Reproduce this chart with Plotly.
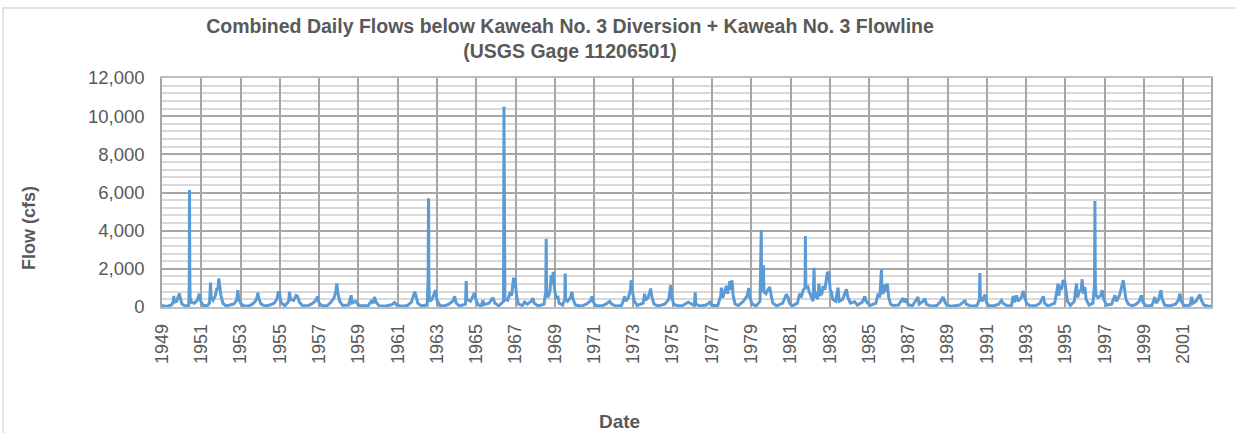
import plotly.graph_objects as go

# Combined daily flow record, USGS gage 11206501 (decimal year, cfs)
t_year = [
    1949.50, 1949.60, 1949.80, 1950.00, 1950.08, 1950.10, 1950.13, 1950.25, 1950.33, 1950.39,
    1950.44, 1950.52, 1950.70, 1950.86, 1950.89, 1950.90, 1950.915, 1950.93, 1951.00, 1951.15,
    1951.30, 1951.40, 1951.47, 1951.60, 1951.80, 1951.92, 1951.97, 1952.00, 1952.10, 1952.22,
    1952.30, 1952.35, 1952.39, 1952.44, 1952.50, 1952.60, 1952.75, 1953.00, 1953.15, 1953.30,
    1953.36, 1953.41, 1953.50, 1953.65, 1953.90, 1954.10, 1954.25, 1954.32, 1954.38, 1954.44,
    1954.55, 1954.75, 1955.00, 1955.20, 1955.35, 1955.42, 1955.48, 1955.55, 1955.75, 1955.95,
    1955.99, 1956.05, 1956.20, 1956.33, 1956.40, 1956.50, 1956.65, 1956.90, 1957.10, 1957.30,
    1957.43, 1957.50, 1957.65, 1957.90, 1958.10, 1958.25, 1958.35, 1958.40, 1958.46, 1958.55,
    1958.70, 1959.00, 1959.13, 1959.18, 1959.35, 1959.45, 1959.60, 1960.00, 1960.15, 1960.25,
    1960.32, 1960.40, 1960.55, 1960.90, 1961.20, 1961.34, 1961.45, 1961.70, 1962.00, 1962.20,
    1962.30, 1962.36, 1962.42, 1962.52, 1962.70, 1963.00, 1963.05, 1963.07, 1963.09, 1963.12,
    1963.25, 1963.38, 1963.43, 1963.50, 1963.65, 1963.90, 1964.10, 1964.30, 1964.40, 1964.48,
    1964.65, 1964.95, 1964.99, 1965.02, 1965.20, 1965.35, 1965.41, 1965.48, 1965.60, 1965.75,
    1965.84, 1965.90, 1966.15, 1966.35, 1966.45, 1966.65, 1966.89, 1966.91, 1966.93, 1966.96,
    1967.10, 1967.20, 1967.30, 1967.40, 1967.44, 1967.48, 1967.55, 1967.65, 1967.85, 1967.96,
    1968.10, 1968.30, 1968.38, 1968.45, 1968.65, 1968.95, 1969.04, 1969.06, 1969.08, 1969.15,
    1969.25, 1969.32, 1969.37, 1969.42, 1969.48, 1969.55, 1969.66, 1969.72, 1969.90, 1970.01,
    1970.03, 1970.05, 1970.15, 1970.30, 1970.37, 1970.43, 1970.55, 1970.85, 1971.10, 1971.30,
    1971.40, 1971.46, 1971.60, 1971.95, 1972.10, 1972.29, 1972.40, 1972.60, 1972.90, 1973.06,
    1973.12, 1973.25, 1973.35, 1973.39, 1973.45, 1973.55, 1973.70, 1974.00, 1974.07, 1974.12,
    1974.25, 1974.32, 1974.38, 1974.45, 1974.55, 1974.75, 1975.10, 1975.30, 1975.40, 1975.46,
    1975.55, 1975.75, 1976.00, 1976.30, 1976.40, 1976.60, 1976.65, 1976.68, 1976.90, 1977.20,
    1977.40, 1977.50, 1977.80, 1977.95, 1977.98, 1978.05, 1978.15, 1978.23, 1978.30, 1978.41,
    1978.46, 1978.52, 1978.58, 1978.68, 1978.85, 1979.10, 1979.30, 1979.37, 1979.43, 1979.55,
    1979.75, 1979.95, 1980.01, 1980.03, 1980.10, 1980.12, 1980.15, 1980.25, 1980.35, 1980.44,
    1980.50, 1980.60, 1980.80, 1981.10, 1981.29, 1981.37, 1981.45, 1981.60, 1981.85, 1981.97,
    1982.05, 1982.14, 1982.24, 1982.26, 1982.28, 1982.39, 1982.45, 1982.55, 1982.65, 1982.70,
    1982.73, 1982.82, 1982.88, 1982.95, 1983.00, 1983.10, 1983.16, 1983.25, 1983.38, 1983.45,
    1983.52, 1983.58, 1983.65, 1983.80, 1983.92, 1983.98, 1984.15, 1984.35, 1984.42, 1984.55,
    1984.77, 1984.90, 1985.15, 1985.28, 1985.35, 1985.55, 1985.85, 1985.96, 1986.05, 1986.13,
    1986.16, 1986.22, 1986.30, 1986.36, 1986.43, 1986.50, 1986.60, 1986.72, 1987.00, 1987.23,
    1987.30, 1987.40, 1987.48, 1987.70, 1987.99, 1988.05, 1988.25, 1988.34, 1988.42, 1988.65,
    1988.95, 1989.15, 1989.27, 1989.35, 1989.45, 1989.70, 1990.10, 1990.30, 1990.38, 1990.45,
    1990.70, 1991.00, 1991.12, 1991.14, 1991.17, 1991.25, 1991.33, 1991.40, 1991.47, 1991.60,
    1991.90, 1992.10, 1992.24, 1992.32, 1992.55, 1992.75, 1992.84, 1992.90, 1993.01, 1993.08,
    1993.25, 1993.35, 1993.42, 1993.52, 1993.70, 1994.00, 1994.20, 1994.37, 1994.44, 1994.60,
    1994.95, 1995.05, 1995.13, 1995.17, 1995.21, 1995.30, 1995.38, 1995.47, 1995.52, 1995.60,
    1995.75, 1995.95, 1996.06, 1996.12, 1996.20, 1996.30, 1996.35, 1996.40, 1996.49, 1996.55,
    1996.70, 1996.90, 1996.98, 1997.00, 1997.02, 1997.06, 1997.15, 1997.30, 1997.37, 1997.45,
    1997.60, 1997.85, 1998.02, 1998.10, 1998.25, 1998.35, 1998.44, 1998.50, 1998.58, 1998.70,
    1998.90, 1999.10, 1999.25, 1999.37, 1999.45, 1999.60, 1999.90, 2000.05, 2000.12, 2000.25,
    2000.36, 2000.43, 2000.55, 2000.80, 2001.10, 2001.25, 2001.33, 2001.40, 2001.55, 2001.85,
    2001.92, 2002.00, 2002.15, 2002.25, 2002.35, 2002.42, 2002.55, 2002.75, 2002.91,
]

flow_cfs = [
    80, 50, 40, 120, 300, 580, 250, 300, 560, 700,
    420, 150, 50, 80, 1200, 6130, 1800, 500, 250, 200,
    350, 700, 300, 90, 60, 200, 1280, 500, 350, 600,
    1000, 900, 1490, 1100, 600, 200, 60, 120, 150, 350,
    880, 450, 200, 70, 50, 150, 300, 450, 740, 400,
    150, 50, 100, 200, 400, 760, 770, 250, 60, 300,
    790, 400, 350, 600, 560, 250, 80, 60, 150, 300,
    550, 200, 60, 60, 250, 450, 800, 1230, 700, 300,
    80, 100, 615, 200, 300, 180, 60, 80, 300, 200,
    525, 250, 70, 50, 120, 230, 100, 40, 80, 250,
    600, 790, 650, 200, 60, 100, 1500, 5695, 1200, 300,
    400, 800, 880, 350, 80, 60, 150, 300, 560, 200,
    50, 150, 1366, 400, 300, 600, 735, 400, 120, 60,
    350, 120, 200, 490, 200, 60, 300, 10500, 1500, 400,
    350, 700, 600, 1543, 1000, 1490, 600, 150, 80, 260,
    150, 300, 470, 200, 50, 150, 800, 3557, 900, 500,
    800, 1664, 1200, 1839, 1000, 500, 525, 200, 100, 400,
    1753, 400, 300, 500, 788, 400, 100, 50, 150, 300,
    560, 250, 60, 80, 150, 300, 150, 50, 80, 560,
    300, 500, 900, 1402, 800, 300, 80, 200, 700, 350,
    500, 700, 964, 500, 150, 60, 150, 400, 1140, 500,
    150, 60, 80, 250, 200, 80, 770, 150, 50, 100,
    250, 80, 80, 600, 1014, 500, 800, 1100, 700, 1350,
    900, 1400, 600, 150, 80, 300, 600, 1000, 500, 150,
    60, 300, 4030, 1000, 800, 2190, 800, 700, 900, 1050,
    700, 200, 60, 200, 670, 525, 200, 60, 200, 700,
    500, 880, 1000, 3714, 1000, 1050, 800, 500, 300, 2050,
    500, 790, 400, 1229, 600, 700, 1100, 900, 1839, 1750,
    900, 790, 400, 300, 1014, 300, 400, 930, 500, 200,
    280, 100, 250, 560, 300, 80, 200, 700, 500, 1963,
    800, 700, 1175, 800, 1230, 500, 150, 80, 100, 470,
    250, 440, 150, 50, 525, 150, 300, 440, 150, 50,
    80, 300, 525, 300, 100, 40, 100, 250, 350, 150,
    40, 80, 400, 1786, 500, 300, 500, 650, 250, 60,
    80, 150, 350, 200, 50, 80, 580, 250, 610, 300,
    500, 841, 500, 200, 60, 80, 200, 560, 200, 50,
    200, 800, 1230, 600, 1140, 900, 1402, 1320, 800, 300,
    80, 300, 1230, 500, 800, 900, 1454, 700, 1050, 400,
    100, 200, 1200, 5553, 1200, 600, 500, 600, 880, 400,
    100, 150, 610, 300, 600, 1000, 1402, 1000, 400, 150,
    60, 150, 300, 610, 250, 60, 80, 525, 200, 400,
    880, 400, 100, 50, 150, 350, 700, 300, 60, 100,
    525, 200, 300, 500, 650, 350, 100, 50, 40,
]

# Year labels every two years; the record begins 1 July 1949
tick_years = list(range(1949, 2002, 2))
record_start = 1949.5
record_end = 2002.91

title_lines = [
    "Combined Daily Flows below Kaweah No. 3 Diversion + Kaweah No. 3 Flowline",
    "(USGS Gage 11206501)",
]

W, H = 1235, 433
L, R, T, B = 162, 24, 78, 126
TEXT = "#595959"
FONT = "Liberation Sans, Arial, sans-serif"


def px_x(px):
    return (px - L) / (W - L - R)


def px_y(py):
    return (H - B - py) / (H - B - T)


fig = go.Figure()
fig.add_trace(go.Scatter(
    x=t_year, y=flow_cfs, mode="lines",
    line=dict(color="#5B9BD5", width=3),
    showlegend=False,
))

fig.update_layout(
    width=W, height=H,
    margin=dict(l=L, r=R, t=T, b=B, autoexpand=False),
    paper_bgcolor="white", plot_bgcolor="white",
    font=dict(family=FONT, color=TEXT),
    title=dict(
        text="<b>" + "<br>".join(title_lines) + "</b>",
        x=570 / W, xanchor="center", xref="container",
        y=1 - 33 / H, yanchor="top", yref="container",
        font=dict(size=19.5, color=TEXT, family=FONT),
    ),
    xaxis=dict(
        range=[record_start, record_end],
        tickmode="array",
        tickvals=[y + 0.5 for y in tick_years],
        ticktext=[str(y) for y in tick_years],
        tickangle=-90,
        tickfont=dict(size=18, color=TEXT),
        showgrid=True, gridcolor="#A6A6A6", gridwidth=1.5,
        showline=True, linecolor="#BFBFBF", linewidth=1.5, mirror=True,
        ticks="outside", ticklen=8, tickcolor="rgba(0,0,0,0)",
        zeroline=False,
    ),
    yaxis=dict(
        range=[0, 12000],
        tickmode="linear", tick0=0, dtick=2000,
        tickformat=",",
        tickfont=dict(size=18.5, color=TEXT),
        showgrid=True, gridcolor="#A6A6A6", gridwidth=1.5,
        minor=dict(dtick=400, showgrid=True, gridcolor="#D9D9D9", gridwidth=1.5),
        showline=True, linecolor="#A6A6A6", linewidth=1.5, mirror=True,
        ticks="outside", ticklen=12, tickcolor="rgba(0,0,0,0)",
        zeroline=False,
    ),
    annotations=[
        dict(text="<b>Flow (cfs)</b>", x=px_x(29), y=px_y(228), xref="paper", yref="paper",
             textangle=-90, showarrow=False, font=dict(size=18, color=TEXT),
             xanchor="center", yanchor="middle"),
        dict(text="<b>Date</b>", x=px_x(619), y=px_y(421), xref="paper", yref="paper",
             showarrow=False, font=dict(size=19, color=TEXT),
             xanchor="center", yanchor="middle"),
    ],
    shapes=[
        dict(type="rect", xref="paper", yref="paper",
             x0=px_x(3), x1=px_x(W + 10), y0=px_y(H + 10), y1=px_y(8),
             line=dict(color="#D9D9D9", width=1.5), fillcolor="rgba(0,0,0,0)", layer="below"),
    ],
)

fig.write_html("out.html")
